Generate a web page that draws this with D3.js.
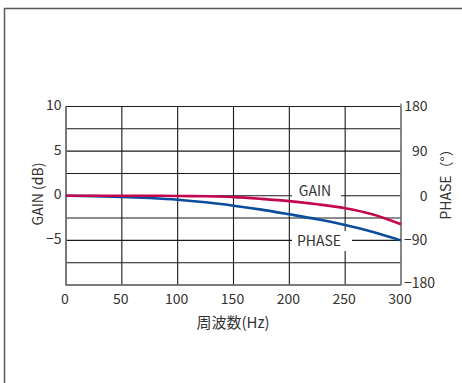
<!DOCTYPE html>
<html><head><meta charset="utf-8">
<script src="https://cdn.jsdelivr.net/npm/d3@7"></script>
<style>body{margin:0;background:#fff}svg{display:block}text{font-family:"Noto Sans CJK JP","Noto Sans",sans-serif;fill:#333}</style>
</head><body>
<script>
const freq = [0, 25, 50, 75, 100, 125, 150, 175, 200, 225, 250, 275, 300];
const gain = [0, 0, 0, 0, -0.02, -0.06, -0.15, -0.35, -0.6, -0.95, -1.4, -2.1, -3.2];
const phase = [0, -0.8, -2.2, -4.6, -8, -13.2, -20, -28, -37.5, -47.5, -59, -73, -90];
const xTicks = [0, 50, 100, 150, 200, 250, 300];
const gainTicks = [10, 5, 0, -5];
const gainGrid = [10, 7.5, 5, 2.5, 0, -2.5, -5, -7.5, -10];
const phaseTicks = [180, 90, 0, -90, -180];

const W = 462, H = 383;
const svg = d3.select("body").append("svg").attr("width", W).attr("height", H);
const x = d3.scaleLinear().domain([0, 300]).range([66, 401]);
const yG = d3.scaleLinear().domain([-10, 10]).range([285, 106.5]);
const yP = d3.scaleLinear().domain([-180, 180]).range([285, 106.5]);

// outer border
svg.append("rect").attr("x", 4.5).attr("y", 8.5).attr("width", 480).attr("height", 400)
  .attr("fill", "none").attr("stroke", "#5a5a5a").attr("stroke-width", 1.5);

// grid
svg.append("g").selectAll("line").data(gainGrid).join("line")
  .attr("x1", x(0)).attr("x2", x(300)).attr("y1", d => yG(d)).attr("y2", d => yG(d))
  .attr("stroke", "#1a1a1a").attr("stroke-width", 1.1);
svg.append("g").selectAll("line").data(xTicks).join("line")
  .attr("x1", d => x(d)).attr("x2", d => x(d)).attr("y1", yG(10)).attr("y2", yG(-10))
  .attr("stroke", "#1a1a1a").attr("stroke-width", 1.1);

// white label boxes
svg.append("rect").attr("x", 292).attr("y", 180).attr("width", 49).attr("height", 18).attr("fill", "#fff");
svg.append("rect").attr("x", 292).attr("y", 231).attr("width", 60).attr("height", 20).attr("fill", "#fff");

// frame (left, bottom, right)
svg.append("path").attr("d", `M${x(0)},${yG(10)}V${yG(-10)}H${x(300)}`)
  .attr("fill", "none").attr("stroke", "#777").attr("stroke-width", 1.6);
svg.append("line").attr("x1", x(300)).attr("x2", x(300)).attr("y1", yG(10) - 3).attr("y2", yG(-10))
  .attr("stroke", "#888").attr("stroke-width", 1.6);

// curves
const lineG = d3.line().x((d, i) => x(freq[i])).y(d => yG(d)).curve(d3.curveCatmullRom);
const lineP = d3.line().x((d, i) => x(freq[i])).y(d => yP(d)).curve(d3.curveCatmullRom);
svg.append("path").attr("d", lineP(phase)).attr("fill", "none").attr("stroke", "#0b4c9c").attr("stroke-width", 2.6);
svg.append("path").attr("d", lineG(gain)).attr("fill", "none").attr("stroke", "#c3074f").attr("stroke-width", 2.6);

// series labels
svg.append("text").attr("x", 315).attr("y", 191).attr("dy", "0.35em").attr("text-anchor", "middle")
  .attr("font-size", 14).text("GAIN");
svg.append("text").attr("x", 319).attr("y", 241).attr("dy", "0.35em").attr("text-anchor", "middle")
  .attr("font-size", 14).text("PHASE");

// left tick labels
svg.append("g").selectAll("text").data(gainTicks).join("text")
  .attr("x", 61.5).attr("y", d => yG(d) - 1.5).attr("dy", "0.35em").attr("text-anchor", "end")
  .attr("font-size", 14).text(d => d < 0 ? "−" + Math.abs(d) : d);
// right tick labels
svg.append("g").selectAll("text").data(phaseTicks).join("text")
  .attr("x", d => d < 0 ? 404 : 427.5).attr("y", d => yP(d) + (d === -180 ? -2 : 0)).attr("dy", "0.35em")
  .attr("text-anchor", d => d < 0 ? "start" : "end")
  .attr("font-size", 14).text(d => d < 0 ? "−" + Math.abs(d) : d);
// bottom tick labels
svg.append("g").selectAll("text").data(xTicks).join("text")
  .attr("x", d => x(d) - 1).attr("y", 299).attr("dy", "0.35em").attr("text-anchor", "middle")
  .attr("font-size", 14).text(d => d);

// axis titles
svg.append("text").attr("x", 233).attr("y", 323).attr("dy", "0.35em").attr("text-anchor", "middle")
  .attr("font-size", 15).text("周波数(Hz)");
svg.append("text").attr("transform", "translate(38,194) rotate(-90)").attr("dy", "0.35em")
  .attr("text-anchor", "middle").attr("font-size", 14).text("GAIN (dB)");
svg.append("text").attr("transform", "translate(446,181) rotate(-90)").attr("dy", "0.35em")
  .attr("text-anchor", "middle").attr("font-size", 14).text("PHASE（°）");
</script>
</body></html>
